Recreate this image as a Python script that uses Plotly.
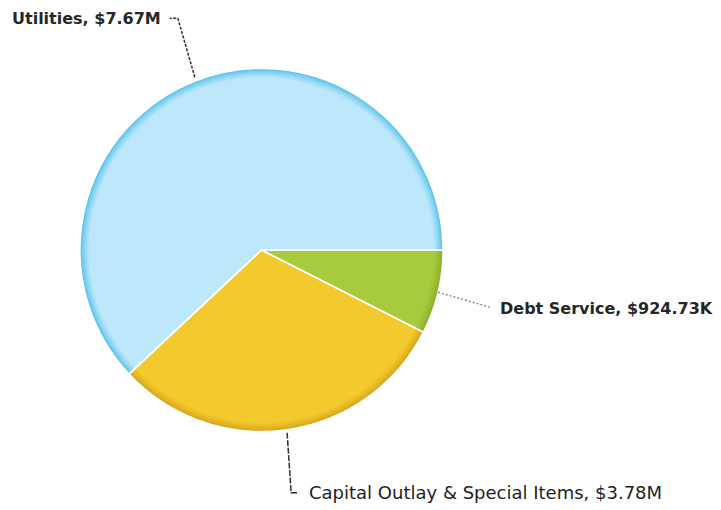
import math
import plotly.graph_objects as go

# Expenditure categories (clockwise from 3 o'clock)
categories = ["Debt Service", "Capital Outlay & Special Items", "Utilities"]
values = [924.73e3, 3.78e6, 7.67e6]
value_labels = ["$924.73K", "$3.78M", "$7.67M"]

# slice colours: rim shade and centre shade
rim_colors = [(0x86, 0xab, 0x26), (0xd3, 0x9f, 0x1a), (0x4c, 0xbd, 0xe8)]
fill_colors = [(0xa8, 0xca, 0x3e), (0xf2, 0xca, 0x2d), (0xbd, 0xe7, 0xfb)]

W, H = 721, 510
CX, CY, R = 261.5, 250.0, 181.5
ROTATION = 90  # first slice starts at 3 o'clock
RIM = 9        # width of the shaded rim in px


def domain(r):
    return dict(x=[(CX - r) / W, (CX + r) / W], y=[1 - (CY + r) / H, 1 - (CY - r) / H])


def mix(c0, c1, t):
    return "rgb(%d,%d,%d)" % tuple(round(a + (b - a) * t) for a, b in zip(c0, c1))


fig = go.Figure()
for k in range(RIM + 1):
    t = (k / RIM) ** 0.7
    cols = [mix(c0, c1, t) for c0, c1 in zip(rim_colors, fill_colors)]
    fig.add_trace(go.Pie(
        labels=categories, values=values, sort=False, direction="clockwise",
        rotation=ROTATION, domain=domain(R - k), textinfo="none", hoverinfo="skip",
        marker=dict(colors=cols, line=dict(width=0)), showlegend=False,
    ))

# white slice separators on top
fig.add_trace(go.Pie(
    labels=categories, values=values, sort=False, direction="clockwise",
    rotation=ROTATION, domain=domain(R), textinfo="none", hoverinfo="skip",
    marker=dict(colors=["rgba(0,0,0,0)"] * 3, line=dict(color="white", width=1.5)),
    showlegend=False,
))

# mid-angle of each slice, measured clockwise from 3 o'clock (screen coords)
total = sum(values)
mids, acc = [], 0.0
for v in values:
    mids.append((acc + v / 2) / total * 2 * math.pi)
    acc += v


def px(x, y):
    return x / W, 1 - y / H


def edge(i):
    a = mids[i]
    return CX + R * math.cos(a), CY + R * math.sin(a)


shapes, annotations = [], []


def leader(points, color, dash, width=1.5):
    path = "M " + " L ".join("%.4f,%.4f" % px(x, y) for x, y in points)
    shapes.append(dict(type="path", path=path, xref="paper", yref="paper",
                       line=dict(color=color, width=width, dash=dash)))


bold_font = dict(family="DejaVu Sans, Verdana, sans-serif", size=16, color="#262626")
plain_font = dict(family="DejaVu Sans, Verdana, sans-serif", size=18, color="#1e1e1e")

# Debt Service
ex, ey = edge(0)
leader([(ex, ey), (ex + 52, ey + 15)], "#6f9494", "2px,2px", 1.4)
annotations.append(dict(x=px(ex + 60, 0)[0], y=px(0, ey + 16)[1], xref="paper", yref="paper",
                        text=f"<b>{categories[0]}, {value_labels[0]}</b>", showarrow=False,
                        xanchor="left", yanchor="middle", font=bold_font))

# Capital Outlay & Special Items
ex, ey = edge(1)
leader([(ex, ey + 3), (ex + 4, ey + 63), (ex + 11, ey + 63)], "#2e2e2e", "6px,1.5px")
annotations.append(dict(x=px(ex + 20, 0)[0], y=px(0, ey + 63)[1], xref="paper", yref="paper",
                        text=f"{categories[1]}, {value_labels[1]}", showarrow=False,
                        xanchor="left", yanchor="middle", font=plain_font))

# Utilities
ex, ey = edge(2)
leader([(ex, ey - 4), (ex - 17, ey - 63), (ex - 25, ey - 63)], "#2e2e2e", "3px,1.5px")
annotations.append(dict(x=px(ex - 32, 0)[0], y=px(0, ey - 63)[1], xref="paper", yref="paper",
                        text=f"<b>{categories[2]}, {value_labels[2]}</b>", showarrow=False,
                        xanchor="right", yanchor="middle", font=bold_font))

fig.update_layout(
    width=W, height=H, margin=dict(l=0, r=0, t=0, b=0),
    paper_bgcolor="white", plot_bgcolor="white",
    shapes=shapes, annotations=annotations,
)

fig.write_html("out.html")
